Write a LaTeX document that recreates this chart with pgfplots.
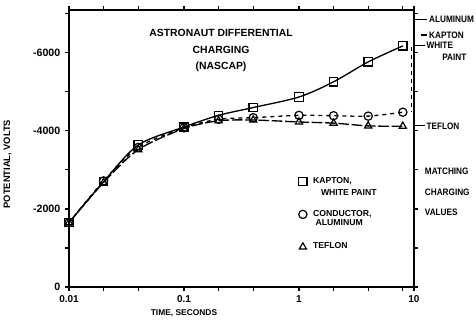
\documentclass[border=0pt]{standalone}
\usepackage{fontspec}
\setmainfont{Liberation Sans}
\newfontfamily\condf[FakeStretch=0.88]{Liberation Sans}
\usepackage{pgfplots}
\pgfplotsset{compat=1.18}
\newcommand{\lf}{\fontsize{7.8}{8}\selectfont\bfseries}
\newcommand{\rf}{\condf\fontsize{7}{8}\selectfont\bfseries}
\begin{document}
\begin{tikzpicture}
\useasboundingbox (-51.75pt,-26.25pt) rectangle (305.25pt,215.25pt);
\begin{axis}[
  at={(0pt,0pt)}, anchor=south west,
  scale only axis, width=258.75pt, height=207.75pt,
  xmode=log, xmin=0.01, xmax=10,
  ymin=-7100, ymax=0, y dir=reverse,
  clip=false,
  xtick={0.01,0.1,1,10}, xticklabels={0.01,0.1,1,10},
  minor xtick={0.02,0.04,0.2,0.4,2,4,8},
  ytick={-6000,-4000,-2000,0}, yticklabels={-6000,-4000,-2000,0},
  minor ytick={-7000,-5000,-3000,-1000},
  ytick pos=both, yticklabel pos=left,
  xtick pos=both, xticklabel pos=bottom,
  tick align=outside,
  major tick length=3pt, minor tick length=3pt,
  tick style={black, line width=0.8pt},
  axis line style={line width=1pt},
  yticklabel style={font=\fontsize{8}{8}\selectfont\bfseries},
  xticklabel style={font=\fontsize{7.5}{8}\selectfont\bfseries},
  /pgf/number format/assume math mode=true,
  legend style={at={(axis cs:0.99,-2880)}, anchor=north west, draw=none, fill=none,
    font=\fontsize{6.5}{7.5}\selectfont\bfseries, row sep=15pt, inner sep=0pt,
    nodes={inner sep=1.5pt}},
  legend cell align=left,
  legend image code/.code={\draw[mark repeat=2,mark phase=2,#1] plot coordinates {(0cm,0cm)(0.15cm,0cm)(0.3cm,0cm)};},
]
\addplot[black, line width=1pt, smooth, mark=square, mark size=3.1pt, mark options={solid, fill=white, line width=0.9pt}, forget plot]
  coordinates {(0.01,-1650)(0.02,-2700)(0.04,-3640)(0.1,-4100)(0.2,-4400)(0.4,-4600)(1,-4870)(2,-5260)(4,-5770)(8,-6180)};
\addplot[black, line width=1pt, smooth, dashed, mark=o, mark size=3.1pt, mark options={solid, fill=white, line width=0.9pt}, forget plot]
  coordinates {(0.01,-1650)(0.02,-2720)(0.04,-3580)(0.1,-4080)(0.2,-4300)(0.4,-4340)(1,-4400)(2,-4390)(4,-4380)(8,-4480)};
\addplot[black, line width=1pt, smooth, dash pattern=on 8pt off 2pt, mark=triangle, mark size=3.1pt, mark options={solid, fill=white, line width=0.9pt}, forget plot]
  coordinates {(0.01,-1650)(0.02,-2680)(0.04,-3520)(0.1,-4060)(0.2,-4260)(0.4,-4280)(1,-4230)(2,-4200)(4,-4130)(8,-4120)};
\addplot[black, line width=1pt, dashed, forget plot] coordinates {(9.5,-6150)(9.5,-4480)};
\addlegendimage{only marks, black, mark=square, mark size=3.1pt, mark options={line width=0.9pt}}
\addlegendentry{\hspace*{3pt}\begin{tabular}[t]{@{}l@{}}KAPTON,\\[1pt]\hspace*{6pt}WHITE PAINT\end{tabular}}
\addlegendimage{only marks, black, mark=o, mark size=3.1pt, mark options={line width=0.9pt}}
\addlegendentry{\hspace*{3pt}\begin{tabular}[t]{@{}l@{}}CONDUCTOR,\\[-1pt]\hspace*{2pt}ALUMINUM\end{tabular}}
\addlegendimage{only marks, black, mark=triangle, mark size=3.1pt, mark options={line width=0.9pt}}
\addlegendentry{\hspace*{3pt}TEFLON}
% axis labels
\node[font=\fontsize{7}{7}\selectfont\bfseries, rotate=90] at ([xshift=-46pt]axis cs:0.01,-3150) {POTENTIAL, VOLTS};
\node[font=\fontsize{6.3}{7}\selectfont\bfseries] at ([yshift=-19.5pt]axis cs:0.1,0) {TIME, SECONDS};
% title
\node[font=\lf] at (axis cs:0.21,-6510) {ASTRONAUT DIFFERENTIAL};
\node[font=\lf] at (axis cs:0.21,-6080) {CHARGING};
\node[font=\lf] at (axis cs:0.21,-5640) {(NASCAP)};
% right side labels
\draw[line width=0.8pt] (axis cs:10,-6850) -- ([xshift=10pt]axis cs:10,-6850) node[right, inner sep=1pt, font=\rf] {ALUMINUM};
\draw[line width=0.8pt] ([xshift=5pt]axis cs:10,-6460) -- ([xshift=10pt]axis cs:10,-6460) node[right, inner sep=1pt, font=\rf] {KAPTON};
\draw[line width=0.8pt] (axis cs:10,-6200) -- ([xshift=8pt]axis cs:10,-6200) node[right, inner sep=1pt, font=\rf] {WHITE};
\node[right, inner sep=1pt, font=\rf] at ([xshift=20pt]axis cs:10,-5900) {PAINT};
\draw[line width=0.8pt] (axis cs:10,-4130) -- ([xshift=8pt]axis cs:10,-4130) node[right, inner sep=1pt, font=\rf] {TEFLON};
\node[right, inner sep=0pt, font=\rf] at ([xshift=8pt]axis cs:10,-2970) {MATCHING};
\node[right, inner sep=0pt, font=\rf] at ([xshift=8pt]axis cs:10,-2440) {CHARGING};
\node[right, inner sep=0pt, font=\rf] at ([xshift=8pt]axis cs:10,-1920) {VALUES};
\end{axis}
\end{tikzpicture}
\end{document}
